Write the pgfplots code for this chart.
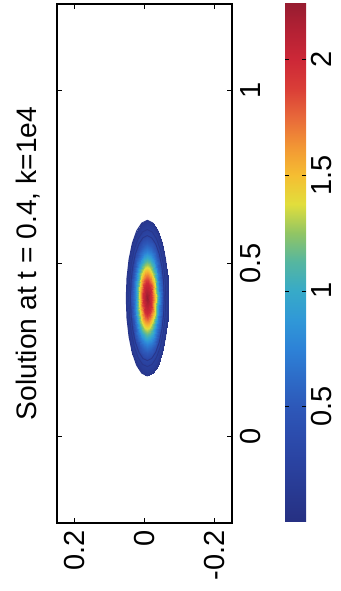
\documentclass[border=0pt]{standalone}
\usepackage{fontspec}
\setmainfont{Liberation Sans}
\usepackage{pgfplots}
\pgfplotsset{compat=1.18}
\pgfplotsset{
  colormap={cjet}{
    rgb255(0cm)=(38,48,130);
    rgb255(1cm)=(40,57,145);
    rgb255(2cm)=(42,66,160);
    rgb255(3cm)=(44,76,173);
    rgb255(4cm)=(45,88,185);
    rgb255(5cm)=(45,108,200);
    rgb255(6cm)=(45,130,215);
    rgb255(7cm)=(48,152,215);
    rgb255(8cm)=(55,170,200);
    rgb255(9cm)=(85,182,160);
    rgb255(10cm)=(145,197,100);
    rgb255(11cm)=(225,222,60);
    rgb255(12cm)=(245,190,50);
    rgb255(13cm)=(242,150,52);
    rgb255(14cm)=(232,105,58);
    rgb255(15cm)=(218,62,55);
    rgb255(16cm)=(205,40,55);
    rgb255(17cm)=(180,33,52);
    rgb255(18cm)=(150,28,48)
  }
}
\definecolor{cline}{RGB}{40,55,140}
\newcommand{\tickfont}{\fontsize{14.5pt}{14.5pt}\selectfont}
\begin{document}
\begin{tikzpicture}
\useasboundingbox (-28.5pt,-34pt) rectangle (142pt,261.5pt);
\begin{axis}[
  name=ax,
  at={(0pt,0pt)}, anchor=south west,
  scale only axis, width=87.5pt, height=259.5pt,
  xmin=-0.25, xmax=0.25, ymin=-0.25, ymax=1.25,
  xtick={-0.2,0,0.2}, xticklabels={0.2,0,-0.2},
  ytick={0,0.5,1}, yticklabels={0,0.5,1},
  yticklabel pos=right,
  xtick pos=both, ytick pos=both,
  tick align=inside, major tick length=2.5pt,
  tick style={black, line width=0.5pt},
  axis line style={line width=0.6pt},
  xticklabel style={rotate=90, anchor=east, font=\tickfont},
  yticklabel style={rotate=90, anchor=north, font=\tickfont},
  yticklabel shift=0.5pt,
  point meta min=0, point meta max=2.25,
  colormap name=cjet,
  colorbar,
  colorbar style={
    at={(parent axis.north east)}, anchor=north west, xshift=18pt, yshift=1pt,
    scale only axis, width=10.5pt, height=260pt,
    ytick={0.5,1,1.5,2}, yticklabels={0.5,1,1.5,2},
    yticklabel pos=right,
    yticklabel style={rotate=90, anchor=north, font=\tickfont},
    yticklabel shift=-1pt,
    axis line style={draw=none},
    tick align=inside, major tick length=2pt,
    ytick style={black, line width=0.3pt},
    ytick pos=both,
  },
]
% solution values on elliptic rings around the peak (h, X, u)
\addplot[surf, shader=interp, point meta=explicit, mesh/cols=25]
 table[x=h, y=X, meta=u] {
h X u
0.008 0.4 2.250
0.008 0.4 2.250
0.008 0.4 2.250
0.008 0.4 2.250
0.008 0.4 2.250
0.008 0.4 2.250
0.008 0.4 2.250
0.008 0.4 2.250
0.008 0.4 2.250
0.008 0.4 2.250
0.008 0.4 2.250
0.008 0.4 2.250
0.008 0.4 2.250
0.008 0.4 2.250
0.008 0.4 2.250
0.008 0.4 2.250
0.008 0.4 2.250
0.008 0.4 2.250
0.008 0.4 2.250
0.008 0.4 2.250
0.008 0.4 2.250
0.008 0.4 2.250
0.008 0.4 2.250
0.008 0.4 2.250
0.008 0.4 2.250

0.008 0.445 1.986
0.0111 0.4435 1.986
0.0140 0.4390 1.986
0.0165 0.4318 1.986
0.0184 0.4225 1.986
0.0196 0.4116 1.986
0.0200 0.4000 1.986
0.0196 0.3884 1.986
0.0184 0.3775 1.986
0.0165 0.3682 1.986
0.0140 0.3610 1.986
0.0111 0.3565 1.986
0.008 0.355 1.986
0.0049 0.3565 1.986
0.0020 0.3610 1.986
-0.0005 0.3682 1.986
-0.0024 0.3775 1.986
-0.0036 0.3884 1.986
-0.0040 0.4000 1.986
-0.0036 0.4116 1.986
-0.0024 0.4225 1.986
-0.0005 0.4318 1.986
0.0020 0.4390 1.986
0.0049 0.4435 1.986
0.008 0.445 1.986

0.008 0.49 1.365
0.0142 0.4869 1.365
0.020 0.4779 1.365
0.025 0.4636 1.365
0.0288 0.445 1.365
0.0312 0.4233 1.365
0.032 0.4 1.365
0.0312 0.3767 1.365
0.0288 0.355 1.365
0.025 0.3364 1.365
0.020 0.3221 1.365
0.0142 0.3131 1.365
0.008 0.31 1.365
0.0018 0.3131 1.365
-0.004 0.3221 1.365
-0.009 0.3364 1.365
-0.0128 0.355 1.365
-0.0152 0.3767 1.365
-0.016 0.4 1.365
-0.0152 0.4233 1.365
-0.0128 0.445 1.365
-0.009 0.4636 1.365
-0.004 0.4779 1.365
0.0018 0.4869 1.365
0.008 0.49 1.365

0.008 0.535 0.731
0.0173 0.5304 0.731
0.026 0.5169 0.731
0.0335 0.4955 0.731
0.0392 0.4675 0.731
0.0428 0.4349 0.731
0.044 0.4 0.731
0.0428 0.3651 0.731
0.0392 0.3325 0.731
0.0335 0.3045 0.731
0.026 0.2831 0.731
0.0173 0.2696 0.731
0.008 0.265 0.731
-0.0013 0.2696 0.731
-0.010 0.2831 0.731
-0.0175 0.3045 0.731
-0.0232 0.3325 0.731
-0.0268 0.3651 0.731
-0.028 0.4 0.731
-0.0268 0.4349 0.731
-0.0232 0.4675 0.731
-0.0175 0.4955 0.731
-0.010 0.5169 0.731
-0.0013 0.5304 0.731
0.008 0.535 0.731

0.008 0.58 0.305
0.0204 0.5739 0.305
0.032 0.5559 0.305
0.0419 0.5273 0.305
0.0496 0.49 0.305
0.0544 0.4466 0.305
0.056 0.4 0.305
0.0544 0.3534 0.305
0.0496 0.31 0.305
0.0419 0.2727 0.305
0.032 0.2441 0.305
0.0204 0.2261 0.305
0.008 0.22 0.305
-0.0044 0.2261 0.305
-0.016 0.2441 0.305
-0.0259 0.2727 0.305
-0.0336 0.31 0.305
-0.0384 0.3534 0.305
-0.040 0.4 0.305
-0.0384 0.4466 0.305
-0.0336 0.49 0.305
-0.0259 0.5273 0.305
-0.016 0.5559 0.305
-0.0044 0.5739 0.305
0.008 0.58 0.305

0.008 0.625 0.099
0.0235 0.6173 0.099
0.038 0.5949 0.099
0.0504 0.5591 0.099
0.060 0.5125 0.099
0.066 0.4582 0.099
0.068 0.4 0.099
0.066 0.3418 0.099
0.060 0.2875 0.099
0.0504 0.2409 0.099
0.038 0.2051 0.099
0.0235 0.1827 0.099
0.008 0.175 0.099
-0.0075 0.1827 0.099
-0.022 0.2051 0.099
-0.0344 0.2409 0.099
-0.044 0.2875 0.099
-0.050 0.3418 0.099
-0.052 0.4 0.099
-0.050 0.4582 0.099
-0.044 0.5125 0.099
-0.0344 0.5591 0.099
-0.022 0.5949 0.099
-0.0075 0.6173 0.099
0.008 0.625 0.099
};
% contour lines (levels 0.1, 0.2, 0.3)
\addplot[cline, line width=0.55pt] coordinates {
(0.008,0.6246) (-0.0075,0.6169) (-0.0220,0.5945) (-0.0344,0.5588) (-0.0439,0.5123) (-0.0499,0.4581) (-0.0519,0.4) (-0.0499,0.3419) (-0.0439,0.2877) (-0.0344,0.2412) (-0.0220,0.2055) (-0.0075,0.1831) (0.008,0.1754) (0.0235,0.1831) (0.0380,0.2055) (0.0504,0.2412) (0.0599,0.2877) (0.0659,0.3419) (0.0679,0.4) (0.0659,0.4581) (0.0599,0.5123) (0.0504,0.5588) (0.0380,0.5945) (0.0235,0.6169) (0.008,0.6246)
};
\addplot[cline, line width=0.45pt] coordinates {
(0.008,0.598) (-0.0057,0.5913) (-0.0184,0.5715) (-0.0293,0.54) (-0.0377,0.499) (-0.043,0.4512) (-0.0448,0.4) (-0.043,0.3488) (-0.0377,0.301) (-0.0293,0.26) (-0.0184,0.2285) (-0.0057,0.2087) (0.008,0.202) (0.0217,0.2087) (0.0344,0.2285) (0.0453,0.26) (0.0537,0.301) (0.059,0.3488) (0.0608,0.4) (0.059,0.4512) (0.0537,0.499) (0.0453,0.54) (0.0344,0.5715) (0.0217,0.5913) (0.008,0.598)
};
\addplot[cline, line width=0.45pt] coordinates {
(0.008,0.5807) (-0.0045,0.5745) (-0.0161,0.5565) (-0.0261,0.5278) (-0.0337,0.4904) (-0.0386,0.4468) (-0.0402,0.4) (-0.0386,0.3532) (-0.0337,0.3096) (-0.0261,0.2722) (-0.0161,0.2435) (-0.0045,0.2255) (0.008,0.2193) (0.0205,0.2255) (0.0321,0.2435) (0.0421,0.2722) (0.0497,0.3096) (0.0546,0.3532) (0.0562,0.4) (0.0546,0.4468) (0.0497,0.4904) (0.0421,0.5278) (0.0321,0.5565) (0.0205,0.5745) (0.008,0.5807)
};
\end{axis}
\node[rotate=90, anchor=base, font=\fontsize{14.1pt}{14.1pt}\selectfont] at ([xshift=-10.5pt]ax.west) {Solution at t = 0.4, k=1e4};
\end{tikzpicture}
\end{document}
